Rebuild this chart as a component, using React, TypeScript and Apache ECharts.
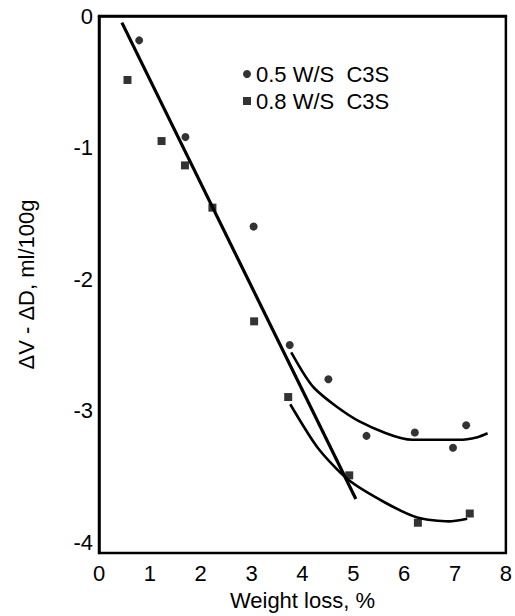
import React, { useEffect, useRef } from "react";
import * as echarts from "echarts";

const seriesNames = ["0.5 W/S  C3S", "0.8 W/S  C3S"];
const pointsWS05: [number, number][] = [
  [0.79, -0.185], [1.70, -0.92], [3.04, -1.60], [3.75, -2.50], [4.51, -2.76],
  [5.26, -3.19], [6.21, -3.165], [6.96, -3.28], [7.22, -3.11],
];
const pointsWS08: [number, number][] = [
  [0.56, -0.486], [1.23, -0.95], [1.69, -1.135], [2.23, -1.456], [3.05, -2.32],
  [3.72, -2.895], [4.92, -3.49], [6.27, -3.85], [7.29, -3.78],
];
const fitLine: [number, number][] = [[0.45, -0.05], [5.05, -3.67]];
const curveWS05: [number, number][] = [
  [3.78, -2.555], [4.24, -2.83], [5.12, -3.08], [6.16, -3.22], [7.08, -3.22], [7.44, -3.2], [7.64, -3.17],
];
const curveWS08: [number, number][] = [
  [3.76, -2.95], [4.3, -3.28], [4.89, -3.52], [5.64, -3.7], [6.26, -3.81], [6.88, -3.84], [7.24, -3.82],
];
const xTicks = [0, 1, 2, 3, 4, 5, 6, 7, 8];
const yTicks = [0, -1, -2, -3, -4];

const FONT = "Liberation Sans, Arial, sans-serif";

export default function App() {
  const ref = useRef<HTMLDivElement>(null);
  useEffect(() => {
    if (!ref.current) return;
    const chart = echarts.init(ref.current, undefined, { renderer: "svg" });
    chart.setOption({
      animation: false,
      backgroundColor: "#ffffff",
      textStyle: { fontFamily: FONT },
      grid: { left: 99, right: 8, top: 16, bottom: 63, show: true, borderColor: "#000", borderWidth: 2.5, backgroundColor: "transparent" },
      legend: {
        orient: "vertical",
        left: 238,
        top: 58,
        itemWidth: 8,
        itemHeight: 8,
        itemGap: 5,
        textStyle: { fontSize: 22, color: "#000", fontFamily: FONT },
        data: [
          { name: seriesNames[0], icon: "circle" },
          { name: seriesNames[1], icon: "rect" },
        ],
      },
      xAxis: {
        type: "value",
        min: 0,
        max: 8,
        interval: 1,
        name: "Weight loss, %",
        nameLocation: "middle",
        nameGap: 36,
        nameTextStyle: { fontSize: 22, color: "#000", fontFamily: FONT },
        axisLine: { show: true, lineStyle: { color: "#000", width: 2.5 } },
        axisTick: { show: false },
        splitLine: { show: false },
        axisLabel: { fontSize: 22, color: "#000", margin: 9, fontFamily: FONT, customValues: xTicks },
      },
      yAxis: {
        type: "value",
        min: -4.08,
        max: 0,
        name: "\u0394V - \u0394D, ml/100g",
        nameLocation: "middle",
        nameGap: 62,
        nameTextStyle: { fontSize: 22, color: "#000", fontFamily: FONT },
        axisLine: { show: true, lineStyle: { color: "#000", width: 2.5 } },
        axisTick: { show: false },
        splitLine: { show: false },
        axisLabel: { fontSize: 22, color: "#000", margin: 6, fontFamily: FONT, customValues: yTicks },
      },
      series: [
        {
          name: seriesNames[0],
          type: "scatter",
          symbol: "circle",
          symbolSize: 8,
          itemStyle: { color: "#000" },
          data: pointsWS05,
          z: 5,
        },
        {
          name: seriesNames[1],
          type: "scatter",
          symbol: "rect",
          symbolSize: 8,
          itemStyle: { color: "#000" },
          data: pointsWS08,
          z: 5,
        },
        {
          name: "fit",
          type: "line",
          data: fitLine,
          showSymbol: false,
          lineStyle: { color: "#000", width: 3.2 },
        },
        {
          name: "curve05",
          type: "line",
          data: curveWS05,
          smooth: 0.25,
          showSymbol: false,
          lineStyle: { color: "#000", width: 2.6 },
        },
        {
          name: "curve08",
          type: "line",
          data: curveWS08,
          smooth: 0.25,
          showSymbol: false,
          lineStyle: { color: "#000", width: 2.6 },
        },
      ],
    });
    return () => chart.dispose();
  }, []);
  return <div ref={ref} style={{ width: 515, height: 616, position: "absolute", left: 0, top: 0 }} />;
}
